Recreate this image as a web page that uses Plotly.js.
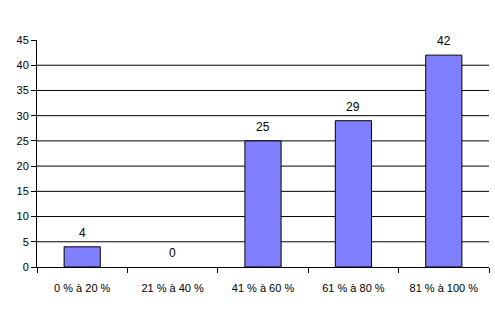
<!DOCTYPE html>
<html><head><meta charset="utf-8">
<script src="https://cdn.plot.ly/plotly-3.0.1.min.js"></script>
<style>html,body{margin:0;padding:0;background:#fff}#chart{width:495px;height:312px}</style>
</head><body><div id="chart"></div>
<script>
const categories = ["0 % à 20 %", "21 % à 40 %", "41 % à 60 %", "61 % à 80 %", "81 % à 100 %"];
const values = [4, 0, 25, 29, 42];
const yTicks = [0, 5, 10, 15, 20, 25, 30, 35, 40, 45];
const gridValues = [5, 10, 15, 20, 25, 30, 35, 40];

const font = {family: "Liberation Sans, Arial, sans-serif", size: 11, color: "#000"};
const annotations = categories.map((c, i) => ({
  x: c, y: values[i], xref: "x", yref: "y", text: String(values[i]),
  showarrow: false, yanchor: "bottom", yshift: 5, font: {family: font.family, size: 12, color: "#000"}
}));
const shapes = gridValues.map(v => ({
  type: "line", xref: "paper", yref: "y", x0: 0, x1: 1, y0: v, y1: v,
  line: {color: "#000", width: 1}, layer: "below"
}));

Plotly.newPlot("chart", [{
  type: "bar", x: categories, y: values,
  marker: {color: "#8080FF", line: {color: "#000", width: values.map(v => v > 0 ? 1 : 0)}},
  hoverinfo: "none"
}], {
  width: 495, height: 312,
  margin: {l: 37, r: 6, t: 40, b: 45},
  paper_bgcolor: "#fff", plot_bgcolor: "#fff",
  bargap: 0.6,
  font: font,
  showlegend: false,
  annotations: annotations,
  shapes: shapes,
  xaxis: {
    type: "category", showline: true, linecolor: "#000", linewidth: 1,
    ticks: "outside", tickson: "boundaries", ticklen: 5, tickcolor: "#000",
    showgrid: false, zeroline: false, ticklabelstandoff: 11, tickfont: font
  },
  yaxis: {
    range: [0, 45], tickvals: yTicks, ticktext: yTicks.map(String),
    showline: true, linecolor: "#000", linewidth: 1,
    ticks: "outside", ticklen: 5, tickcolor: "#000",
    showgrid: false, zeroline: false, tickfont: font
  }
}, {displayModeBar: false, staticPlot: true});
</script></body></html>
